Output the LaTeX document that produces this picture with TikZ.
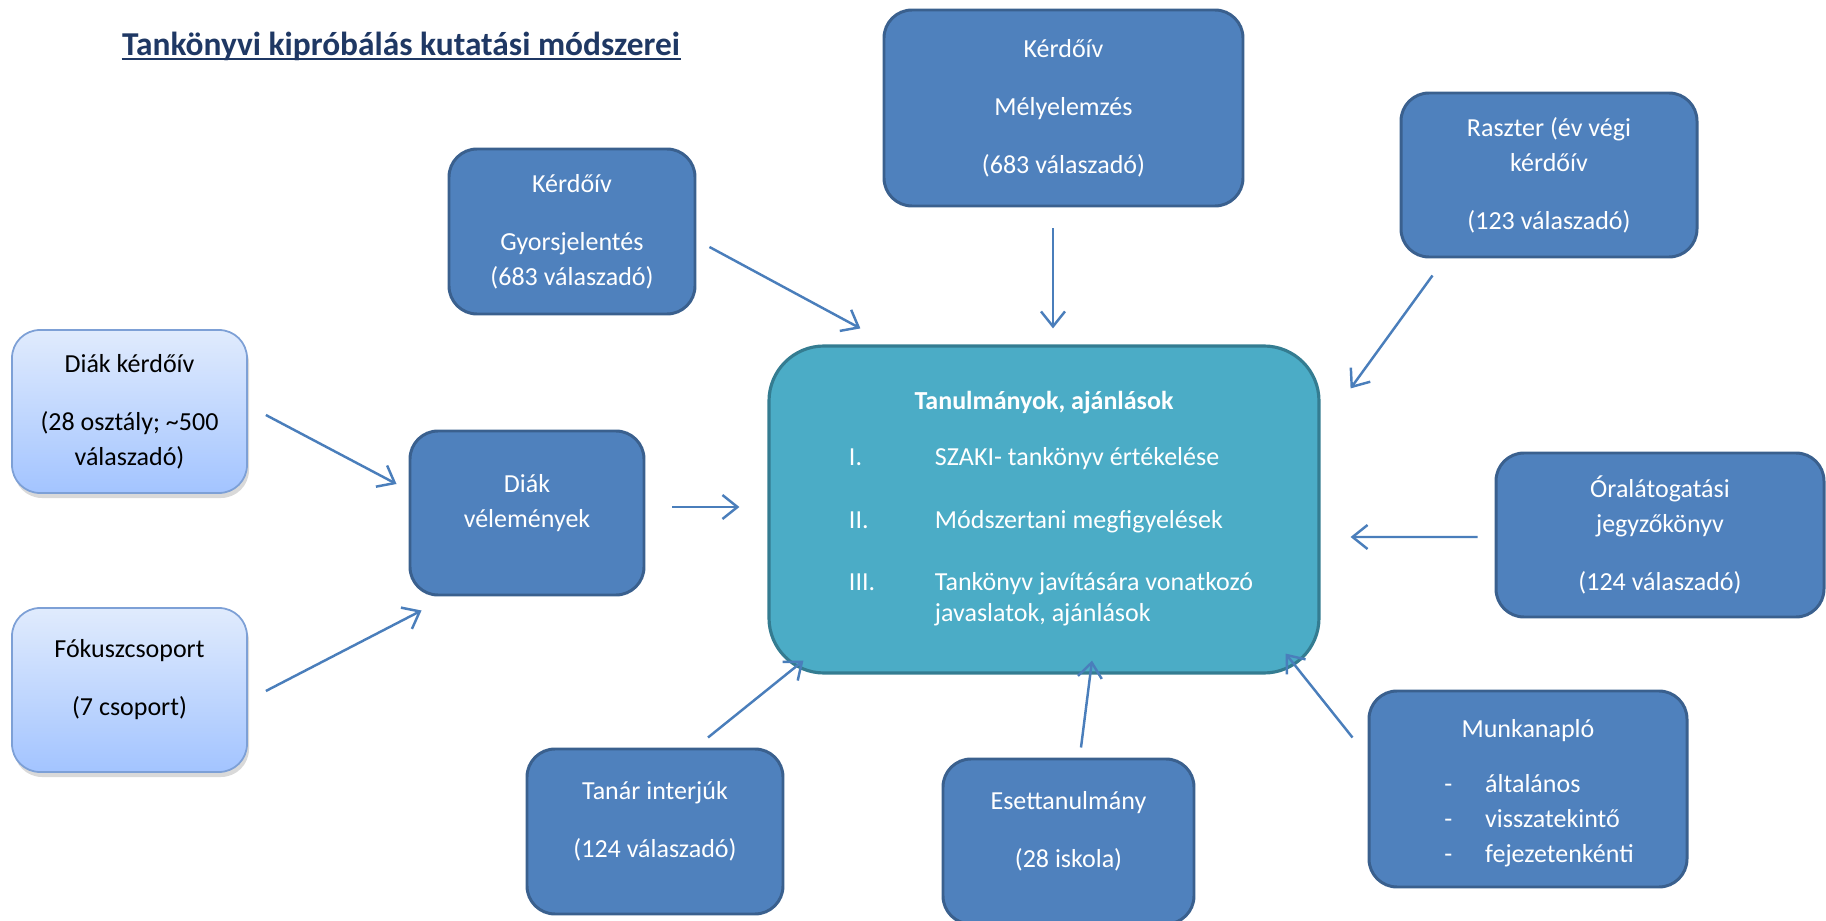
\documentclass[tikz,border=0pt]{standalone}
\usepackage{fontspec}
\setmainfont{Carlito}
\usetikzlibrary{arrows.meta,shadows,positioning}
\definecolor{boxblue}{RGB}{79,129,189}
\definecolor{boxedge}{RGB}{58,96,142}
\definecolor{hubaqua}{RGB}{75,172,198}
\definecolor{hubedge}{RGB}{52,124,145}
\definecolor{lighttop}{RGB}{224,235,253}
\definecolor{lightbot}{RGB}{163,196,255}
\definecolor{lightedge}{RGB}{125,160,214}
\definecolor{arrowblue}{RGB}{74,126,187}
\definecolor{titleblue}{RGB}{31,56,100}

\begin{document}
\begin{tikzpicture}[
    method/.style={rectangle, draw=boxedge, fill=boxblue, line width=0.85pt,
                   rounded corners=0.28cm, text=white, align=center, inner sep=0pt,
                   font=\fontsize{7.4}{9.9}\selectfont},
    source/.style={rectangle, draw=lightedge, top color=lighttop, bottom color=lightbot,
                   line width=0.5pt, rounded corners=0.28cm, align=center, inner sep=0pt,
                   font=\fontsize{7.4}{9.9}\selectfont,
                   drop shadow={shadow xshift=0.02cm, shadow yshift=-0.05cm, opacity=0.3}},
    hub/.style={rectangle, draw=hubedge, fill=hubaqua, line width=0.9pt,
                rounded corners=0.55cm, text=white, inner sep=0pt,
                font=\fontsize{7.4}{8.8}\selectfont},
    raised/.style={text depth=7pt},
    link/.style={-{Straight Barb[length=1.5mm,width=2.4mm]}, arrowblue, line width=0.7pt}
]
\useasboundingbox (0,0) rectangle (18.26,-9.21);

% Title
\node[anchor=base west, inner sep=0pt, text=titleblue, font=\fontsize{9.5}{11}\selectfont\bfseries]
    (title) at (1.215,-0.555) {Tankönyvi kipróbálás kutatási módszerei};
\draw[titleblue, line width=0.8pt] ([yshift=-0.035cm]title.base west) -- ([yshift=-0.035cm]title.base east);

% Central results box
\node[hub, minimum width=5.5cm, minimum height=3.27cm] (results) at (10.44,-5.095) {%
  \begin{tabular}{@{\hspace{0.14cm}}p{0.86cm}@{}l@{}}
  \multicolumn{2}{@{}c@{}}{\textbf{Tanulmányok, ajánlások}}\\[7pt]
  I. & SZAKI- tankönyv értékelése\\[9.2pt]
  II. & Módszertani megfigyelések\\[8.8pt]
  III. & Tankönyv javítására vonatkozó\\
   & javaslatok, ajánlások
  \end{tabular}};

% Method boxes around it
\node[method, minimum width=2.46cm, minimum height=1.65cm] (gyors) at (5.72,-2.315)
    {Kérdőív\\[6.6pt]Gyorsjelentés\\(683 válaszadó)};
\node[method, minimum width=3.59cm, minimum height=1.96cm] (mely) at (10.635,-1.08)
    {Kérdőív\\[6.6pt]Mélyelemzés\\[6.6pt](683 válaszadó)};
\node[method, minimum width=2.96cm, minimum height=1.64cm] (raszter) at (15.49,-1.75)
    {Raszter (év végi\\kérdőív\\[6.6pt](123 válaszadó)};
\node[method, minimum width=3.28cm, minimum height=1.64cm] (ora) at (16.60,-5.35)
    {Óralátogatási\\jegyzőkönyv\\[6.6pt](124 válaszadó)};
\node[method, text depth=18.8pt, minimum width=3.18cm, minimum height=1.96cm] (munka) at (15.28,-7.89)
    {Munkanapló\\[6pt]\hspace*{0.22cm}\begin{tabular}[t]{@{}p{0.41cm}@{}l@{}}
     - & általános\\ - & visszatekintő\\ - & fejezetenkénti\end{tabular}};
\node[method, raised, minimum width=2.51cm, minimum height=1.65cm] (eset) at (10.685,-8.415)
    {Esettanulmány\\[6.6pt](28 iskola)};
\node[method, raised, minimum width=2.56cm, minimum height=1.65cm] (tanar) at (6.55,-8.315)
    {Tanár interjúk\\[6.6pt](124 válaszadó)};
\node[method, raised, minimum width=2.34cm, minimum height=1.64cm] (diakvel) at (5.27,-5.13)
    {Diák\\vélemények};

% Student sources
\node[source, minimum width=2.35cm, minimum height=1.63cm] (diakk) at (1.295,-4.115)
    {Diák kérdőív\\[6.6pt](28 osztály; \textasciitilde500\\válaszadó)};
\node[source, raised, minimum width=2.35cm, minimum height=1.64cm] (fokusz) at (1.295,-6.9)
    {Fókuszcsoport\\[6.6pt](7 csoport)};

% Arrows
\draw[link] ([shift={(0.13,-0.155)}]gyors.east) -- ([shift={(0.93,0.16)}]results.north west);
\draw[link] ([shift={(-0.105,-0.21)}]mely.south) -- ([shift={(0.09,0.16)}]results.north);
\draw[link] ([shift={(0.33,-0.17)}]raszter.south west) -- ([shift={(0.30,-0.44)}]results.north east);
\draw[link] ([shift={(-0.17,-0.02)}]ora.west) -- ([shift={(0.30,-0.275)}]results.east);
\draw[link] ([shift={(-0.15,-0.48)}]munka.north west) -- ([shift={(-0.35,0.21)}]results.south east);
\draw[link] ([shift={(0.125,0.10)}]eset.north) -- ([shift={(0.48,0.14)}]results.south);
\draw[link] ([shift={(0.53,0.10)}]tanar.north) -- ([shift={(0.36,0.14)}]results.south west);
\draw[link] ([shift={(0.27,0.06)}]diakvel.east) -- ([shift={(-0.28,0.025)}]results.west);
\draw[link] ([shift={(0.18,-0.035)}]diakk.east) -- ([shift={(-0.12,0.29)}]diakvel.west);
\draw[link] ([shift={(0.18,-0.01)}]fokusz.east) -- ([shift={(0.13,-0.14)}]diakvel.south west);

\end{tikzpicture}
\end{document}
